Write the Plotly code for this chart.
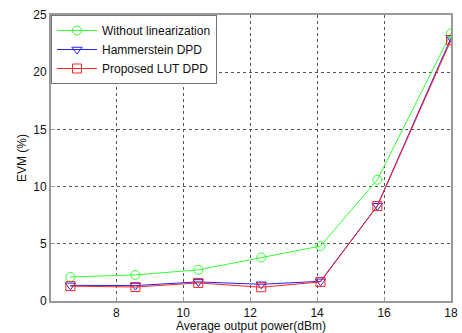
import plotly.graph_objects as go

power = [6.63, 8.57, 10.45, 12.33, 14.1, 15.8, 18.0]
evm_without = [2.1, 2.28, 2.72, 3.8, 4.8, 10.6, 23.4]
evm_hammer = [1.37, 1.35, 1.67, 1.46, 1.72, 8.33, 23.0]
evm_lut = [1.3, 1.22, 1.58, 1.2, 1.67, 8.3, 22.8]
x_ticks = [8, 10, 12, 14, 16, 18]
y_ticks = [0, 5, 10, 15, 20, 25]

fig = go.Figure()
fig.add_trace(go.Scatter(x=power, y=evm_without, mode="lines+markers", name="Without linearization",
                         line=dict(color="#33ff33", width=1),
                         marker=dict(symbol="circle-open", size=9, color="#33ff33", line=dict(width=1))))
fig.add_trace(go.Scatter(x=power, y=evm_hammer, mode="lines+markers", name="Hammerstein DPD",
                         line=dict(color="#2222ee", width=1),
                         marker=dict(symbol="triangle-down-open", size=9, color="#2222ee", line=dict(width=1))))
fig.add_trace(go.Scatter(x=power, y=evm_lut, mode="lines+markers", name="Proposed LUT DPD",
                         line=dict(color="#ff2222", width=1),
                         marker=dict(symbol="square-open", size=9, color="#ff2222", line=dict(width=1))))

axis_common = dict(showline=True, linecolor="#999999", linewidth=2, mirror=True,
                   showgrid=True, gridcolor="#555555", griddash="dot", gridwidth=1,
                   zeroline=False, ticks="inside", ticklen=4, tickcolor="#999999",
                   automargin=False,
                   tickfont=dict(family="Liberation Sans, Arial", size=12, color="#111111"))

fig.update_layout(
    width=462, height=333, autosize=False,
    margin=dict(l=51, r=11, t=15, b=32),
    paper_bgcolor="white", plot_bgcolor="white",
    font=dict(family="Liberation Sans, Arial", size=12, color="#111111"),
    xaxis=dict(range=[6.05, 18], tickvals=x_ticks,
               title=dict(text="Average output power(dBm)", font=dict(size=12)),
               **axis_common),
    yaxis=dict(range=[0, 25], tickvals=y_ticks, **axis_common),
    legend=dict(x=0, y=1, xanchor="left", yanchor="top", bgcolor="white",
                bordercolor="#777777", borderwidth=1,
                font=dict(family="Liberation Sans, Arial", size=12, color="#111111"),
                tracegroupgap=0, itemwidth=40),
    showlegend=True,
    annotations=[dict(text="EVM (%)", textangle=-90, xref="paper", yref="paper",
                      x=-29 / 400, y=0.5, xanchor="center", yanchor="middle",
                      showarrow=False, font=dict(size=12, color="#111111"))],
)

fig.write_html("out.html", config={"displayModeBar": False},
               post_script="document.body.style.margin='0';document.body.style.padding='0';")
